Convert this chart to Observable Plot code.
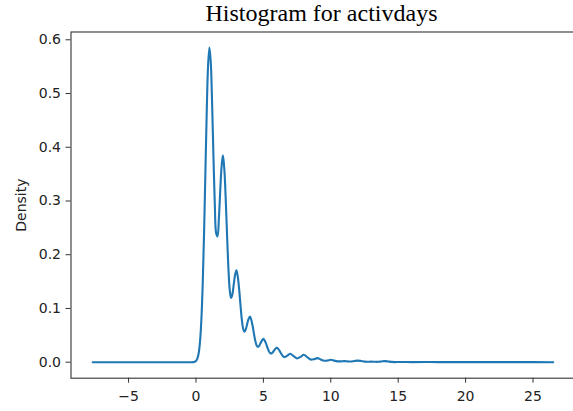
<!DOCTYPE html>
<html>
<head>
<meta charset="utf-8">
<script src="https://cdn.jsdelivr.net/npm/d3@7"></script>
<script src="https://cdn.jsdelivr.net/npm/@observablehq/plot@0.6"></script>
<style>
  html, body { margin: 0; padding: 0; background: #fff; overflow: hidden; }
  #title { font-family: "Liberation Serif", "Times New Roman", serif; font-size: 24px; line-height: 26px; height: 26px; padding-top: 0px; margin-left: 70px; width: 503px; text-align: center; color: #000; white-space: nowrap; }
  #chart { width: 573px; overflow: hidden; }
  #chart svg { display: block; max-width: none !important; width: 580px; height: 385px; }
</style>
</head>
<body>
<div id="title">Histogram for activdays</div>
<div id="chart"></div>
<script>
const titleText = "Histogram for activdays";
const yLabel = "Density";
const xTicks = [-5, 0, 5, 10, 15, 20, 25];
const yTicks = [0.0, 0.1, 0.2, 0.3, 0.4, 0.5, 0.6];

// KDE curve (x = activdays, y = density)
const densX = [-7.66, -5, -2.5, -1, -0.5, -0.3, -0.2, -0.1,
  0.0, 0.1, 0.2, 0.3, 0.4, 0.5, 0.6, 0.7, 0.8, 0.9,
  1.0, 1.1, 1.2, 1.3, 1.4, 1.5, 1.6, 1.7, 1.8, 1.9,
  2.0, 2.1, 2.2, 2.3, 2.4, 2.5, 2.6, 2.7, 2.8, 2.9,
  3.0, 3.1, 3.2, 3.3, 3.4, 3.5, 3.6, 3.7, 3.8, 3.9,
  4.0, 4.1, 4.2, 4.3, 4.4, 4.5, 4.6, 4.7, 4.8, 4.9,
  5.0, 5.1, 5.2, 5.3, 5.4, 5.5, 5.6, 5.7, 5.8, 5.9,
  6.0, 6.1, 6.2, 6.3, 6.4, 6.5, 6.6, 6.7, 6.8, 6.9,
  7.0, 7.25, 7.5, 7.75, 8.0, 8.25, 8.5, 8.75, 9.0, 9.25, 9.5, 9.75,
  10.0, 10.25, 10.5, 10.75, 11.0, 11.25, 11.5, 11.75, 12.0, 12.25, 12.5, 12.75,
  13.0, 13.25, 13.5, 13.75, 14.0, 14.25, 14.5, 14.75, 15.0,
  16, 17, 18, 20, 22, 24, 26.5];
const densY = [0, 0, 0, 0, 0, 0.0000, 0.0001, 0.0007,
  0.0023, 0.0065, 0.0167, 0.0384, 0.0788, 0.1454, 0.2400, 0.3545, 0.4680, 0.5530,
  0.5855, 0.5567, 0.4786, 0.3793, 0.2910, 0.2395, 0.2342, 0.2678, 0.3196, 0.3643,
  0.3850, 0.3601, 0.3078, 0.2404, 0.1779, 0.1357, 0.1196, 0.1262, 0.1446, 0.1623,
  0.1710, 0.1594, 0.1363, 0.1069, 0.0798, 0.0623, 0.0566, 0.0614, 0.0713, 0.0804,
  0.0850, 0.0792, 0.0678, 0.0532, 0.0398, 0.0312, 0.0285, 0.0310, 0.0360, 0.0406,
  0.0436, 0.0401, 0.0344, 0.0272, 0.0208, 0.0169, 0.0164, 0.0185, 0.0220, 0.0251,
  0.0268, 0.0248, 0.0212, 0.0168, 0.0127, 0.0102, 0.0097, 0.0108, 0.0127, 0.0145,
  0.0156, 0.0112, 0.0070, 0.0098, 0.0138, 0.0095, 0.0050, 0.0055, 0.0075, 0.0051, 0.0027, 0.0031,
  0.0045, 0.0029, 0.0015, 0.0016, 0.0020, 0.0015, 0.0012, 0.0022, 0.0030, 0.0022, 0.0010, 0.0008,
  0.0010, 0.0008, 0.0007, 0.0014, 0.0020, 0.0014, 0.0005, 0.0002, 0.0003,
  0.0002, 0.0003, 0.0001, 0.0002, 0.0001, 0.0001, 0.0000];

const data = densX.map((x, i) => ({x, y: densY[i]}));

const chart = Plot.plot({
  width: 580,
  height: 385,
  marginLeft: 70.5,
  marginRight: 3,
  marginTop: 5.5,
  marginBottom: 33.3,
  style: {fontFamily: "DejaVu Sans", fontSize: "14px", color: "#222", background: "#fff", maxWidth: "none"},
  x: {domain: [-9.27, 28.3]},
  y: {domain: [-0.0298, 0.6145]},
  marks: [
    Plot.line(data, {x: "x", y: "y", stroke: "#1f77b4", strokeWidth: 2.1, curve: "catmull-rom"}),
    Plot.frame({stroke: "#333", strokeWidth: 1.1}),
    Plot.axisX({ticks: xTicks, tickSize: 5, tickPadding: 8, label: null, stroke: "#333", tickFormat: d => d < 0 ? "\u2212" + Math.abs(d) : String(d)}),
    Plot.axisY({ticks: yTicks, tickSize: 5, tickPadding: 5, label: null, stroke: "#333", tickFormat: d3.format(".1f")}),
    Plot.text([yLabel], {frameAnchor: "left", text: d => d, rotate: -90, dx: -49, fill: "#222", fontSize: 14, textAnchor: "middle", lineAnchor: "middle"})
  ]
});
document.getElementById("chart").appendChild(chart);
</script>
</body>
</html>
